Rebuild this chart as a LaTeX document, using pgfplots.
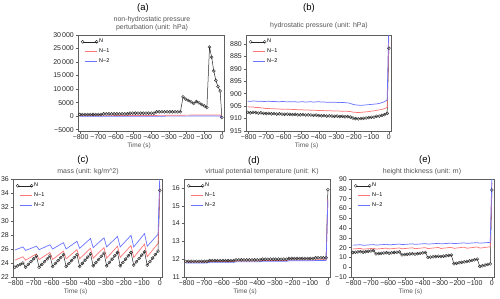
\documentclass[border=0pt]{standalone}
\usepackage{fontspec}
\setmainfont{Liberation Sans}
\usepackage{pgfplots}
\usepackage{pgfplotstable}
\pgfplotsset{compat=1.18}
\definecolor{nred}{RGB}{255,115,115}
\definecolor{nblue}{RGB}{105,115,255}
\definecolor{subgray}{RGB}{85,85,85}
\definecolor{axgray}{RGB}{95,95,95}

% panel (a) N
\pgfplotstableread{
t n
-805 600
-790 600
-775 600
-760 600
-745 600
-730 600
-715 600
-700 600
-685 600
-670 850
-655 850
-640 850
-625 850
-610 850
-595 850
-580 850
-565 850
-550 850
-535 850
-520 1100
-505 1100
-490 1100
-475 1100
-460 1100
-445 1100
-430 1100
-415 1100
-400 1100
-385 1100
-370 1600
-355 1600
-340 1600
-325 1600
-310 1600
-295 1600
-280 1600
-265 1600
-250 1600
-235 1600
-220 7100
-205 6300
-190 5800
-175 5300
-160 4700
-145 5400
-130 4900
-115 4300
-100 3800
-85 3200
-70 25500
-58 21800
-46 16700
-34 13200
-22 10900
-10 9300
0 -500
}\tabA

% panel (b)
\pgfplotstableread{
t n n1 n2
-805 907.5 905.2 903.0
-790 907.7 905.4 903.1
-775 907.5 905.3 902.9
-760 907.6 905.6 903.0
-745 907.8 905.5 903.1
-730 907.7 905.7 903.0
-715 907.9 905.8 903.2
-700 908.0 906.0 903.1
-685 907.9 905.9 903.0
-670 908.1 906.1 903.2
-655 908.0 906.0 903.1
-640 908.2 906.2 903.2
-625 908.1 906.1 903.3
-610 908.2 906.3 903.1
-595 908.3 906.2 903.2
-580 908.2 906.3 903.3
-565 908.3 906.2 903.2
-550 908.4 906.4 903.3
-535 908.3 906.3 903.2
-520 908.5 906.5 903.4
-505 908.5 906.4 903.3
-490 908.4 906.5 903.2
-475 908.6 906.6 903.4
-460 908.5 906.5 903.3
-445 908.6 906.7 903.2
-430 908.7 906.6 903.4
-415 908.6 906.7 903.3
-400 908.8 906.8 903.2
-385 908.9 906.7 903.4
-370 908.8 906.8 903.3
-355 909.0 906.9 903.5
-340 908.9 906.8 903.4
-325 909.0 906.9 903.5
-310 909.1 907.0 903.4
-295 909.0 906.9 903.5
-280 909.2 907.0 903.6
-265 909.1 907.1 903.5
-250 909.3 907.0 903.6
-235 909.2 907.1 903.7
-220 909.4 907.2 903.9
-205 909.8 907.4 904.3
-190 910.0 907.5 904.5
-175 910.1 907.6 904.6
-160 910.0 907.5 904.7
-145 909.9 907.4 904.6
-130 909.8 907.3 904.5
-115 909.6 907.2 904.4
-100 909.5 907.0 904.3
-85 909.4 906.9 904.2
-70 909.1 906.7 904.1
-55 909.0 906.5 903.9
-40 908.7 906.3 903.6
-25 908.4 906.0 903.2
-10 907.9 905.5 902.5
0 881.7 876.0 870.0
}\tabB

% panel (c)
\pgfplotstableread{
t n n1 n2
-805 23.40 24.40 25.85
-790 23.60 24.57 26.00
-775 23.80 24.73 26.15
-760 24.00 24.90 26.30
-745 23.40 24.40 25.80
-730 23.80 24.63 25.95
-715 24.20 24.85 26.10
-700 24.60 25.08 26.25
-685 25.00 25.30 26.40
-670 23.40 24.50 25.90
-655 23.80 24.75 26.08
-640 24.20 25.00 26.25
-625 24.60 25.25 26.43
-610 25.00 25.50 26.60
-595 23.50 24.50 26.00
-580 23.93 24.80 26.23
-565 24.35 25.10 26.45
-550 24.78 25.40 26.68
-535 25.20 25.70 26.90
-520 23.50 24.60 26.00
-505 23.93 24.93 26.28
-490 24.35 25.25 26.55
-475 24.78 25.58 26.83
-460 25.20 25.90 27.10
-445 23.50 24.60 26.10
-430 23.95 24.98 26.45
-415 24.40 25.35 26.80
-400 24.85 25.73 27.15
-385 25.30 26.10 27.50
-370 23.60 24.70 26.20
-355 24.05 25.08 26.55
-340 24.50 25.45 26.90
-325 24.95 25.83 27.25
-310 25.40 26.20 27.60
-295 23.60 24.70 26.30
-280 24.08 25.13 26.68
-265 24.55 25.55 27.05
-250 25.03 25.98 27.43
-235 25.50 26.40 27.80
-220 23.60 24.80 26.30
-205 24.08 25.23 26.71
-190 24.55 25.65 27.13
-175 25.03 26.08 27.54
-160 25.50 26.50 27.95
-145 23.70 24.80 26.30
-130 24.18 25.28 26.78
-115 24.65 25.75 27.25
-100 25.13 26.23 27.73
-85 25.60 26.70 28.20
-70 23.70 24.90 26.40
-55 24.20 25.38 26.83
-40 24.70 25.85 27.25
-25 25.20 26.33 27.68
-10 25.70 26.80 28.10
0 34.40 35.20 36.80
}\tabC

% panel (d)
\pgfplotstableread{
t n n1 n2
-805 11.88 11.84 11.79
-790 11.88 11.84 11.79
-775 11.88 11.84 11.79
-760 11.88 11.84 11.79
-745 11.88 11.84 11.79
-730 11.88 11.84 11.79
-715 11.88 11.84 11.79
-700 11.88 11.84 11.79
-685 11.88 11.84 11.79
-670 11.92 11.87 11.82
-655 11.92 11.87 11.82
-640 11.92 11.87 11.82
-625 11.92 11.87 11.82
-610 11.92 11.87 11.82
-595 11.92 11.87 11.82
-580 11.92 11.87 11.82
-565 11.92 11.87 11.82
-550 11.92 11.87 11.82
-535 11.92 11.87 11.82
-520 11.96 11.90 11.85
-505 11.96 11.90 11.85
-490 11.96 11.90 11.85
-475 11.96 11.90 11.85
-460 11.96 11.90 11.85
-445 11.96 11.90 11.85
-430 11.96 11.90 11.85
-415 11.96 11.90 11.85
-400 11.96 11.90 11.85
-385 11.96 11.90 11.85
-370 12.00 11.93 11.88
-355 12.00 11.93 11.88
-340 12.00 11.93 11.88
-325 12.00 11.93 11.88
-310 12.00 11.93 11.88
-295 12.00 11.93 11.88
-280 12.00 11.93 11.88
-265 12.00 11.93 11.88
-250 12.00 11.93 11.88
-235 12.00 11.93 11.88
-220 12.04 11.95 11.91
-205 12.04 11.95 11.91
-190 12.04 11.95 11.91
-175 12.04 11.95 11.91
-160 12.04 11.95 11.91
-145 12.04 11.95 11.91
-130 12.04 11.95 11.91
-115 12.04 11.95 11.91
-100 12.04 11.95 11.91
-85 12.04 11.95 11.91
-70 12.08 11.97 11.93
-55 12.08 11.97 11.93
-40 12.08 11.97 11.93
-25 12.08 11.97 11.93
-10 12.08 11.97 11.93
0 15.90 15.40 15.30
}\tabD

% panel (e)
\pgfplotstableread{
t n n1 n2
-805 15.0 18.60 22.50
-790 15.3 18.80 22.60
-775 15.6 19.00 22.80
-760 15.9 19.20 23.00
-745 15.4 18.40 22.30
-730 15.8 18.63 22.50
-715 16.2 18.85 22.70
-700 16.6 19.08 22.90
-685 17.0 19.30 23.10
-670 13.6 18.52 22.55
-655 13.9 18.76 22.75
-640 14.2 19.00 22.95
-625 14.5 19.23 23.15
-610 14.8 19.47 23.35
-595 14.3 18.64 22.80
-580 14.7 18.89 23.00
-565 15.0 19.14 23.20
-550 15.3 19.39 23.40
-535 15.6 19.64 23.60
-520 12.6 18.76 23.05
-505 12.9 19.02 23.25
-490 13.2 19.29 23.45
-475 13.5 19.55 23.65
-460 13.8 19.81 23.85
-445 13.4 18.88 23.30
-430 13.8 19.16 23.50
-415 14.2 19.43 23.70
-400 14.6 19.71 23.90
-385 15.0 19.98 24.10
-370 10.0 19.00 23.55
-355 10.3 19.29 23.75
-340 10.6 19.58 23.95
-325 10.9 19.86 24.15
-310 11.2 20.15 24.35
-295 10.8 19.12 23.80
-280 11.2 19.42 24.00
-265 11.6 19.72 24.20
-250 12.0 20.02 24.40
-235 12.4 20.32 24.60
-220 3.5 19.24 24.05
-205 4.0 19.55 24.25
-190 4.5 19.87 24.45
-175 5.0 20.18 24.65
-160 5.5 20.49 24.85
-145 5.8 19.36 24.30
-130 6.4 19.69 24.50
-115 7.0 20.01 24.70
-100 7.6 20.34 24.90
-85 8.2 20.66 25.10
-70 0.8 19.48 24.55
-55 1.5 19.82 24.75
-40 2.2 20.16 24.95
-25 2.8 20.49 25.15
-10 3.4 20.83 25.35
0 78.8 86.0 95.0
}\tabE

\pgfplotsset{
 panel/.style={
  scale only axis, anchor=north west,
  xmin=-815, xmax=12,
  xtick={-800,-700,...,0},
  xticklabels={−800,−700,−600,−500,−400,−300,−200,−100,0},
  scaled y ticks=false,
  xtick pos=left, ytick pos=left,
  tick align=outside,
  major tick length=2.5bp,
  every tick/.style={axgray, line width=0.4pt},
  axis line style={axgray, line width=0.6pt},
  tick label style={font=\fontsize{7}{7}\selectfont, text=black!85},
  xticklabel style={inner sep=1pt},
  yticklabel style={inner sep=1.5pt},
  /pgf/number format/assume math mode=true,
  xlabel={Time (s)},
  xlabel style={font=\fontsize{6.5}{6.5}\selectfont, text=subgray, at={(axis description cs:0.5,0)}, anchor=center, yshift=-15bp, xshift=-12bp},
  legend style={draw=none, fill=none, at={(0,1)}, anchor=north west, xshift=3bp, yshift=-3bp, font=\fontsize{5.5}{5.5}\selectfont, row sep=2.5bp, inner sep=0pt, nodes={inner sep=1pt}},
  legend cell align=left,
 },
 nN/.style={black!85, line width=0.5pt, mark=o, mark size=1.5bp, mark options={line width=0.4pt, fill=none},
   legend image code/.code={\draw[black!85, line width=0.5pt, mark=o, mark size=1.5bp, mark options={line width=0.4pt}] plot coordinates {(0bp,0bp) (14bp,0bp)};}},
 nA/.style={nred, line width=0.7pt, legend image code/.code={\draw[draw=nred, line width=1pt] (2bp,0bp) -- (14bp,0bp);}},
 nB/.style={nblue, line width=0.7pt, legend image code/.code={\draw[draw=nblue, line width=1pt] (2bp,0bp) -- (14bp,0bp);}},
}

\begin{document}
\begin{tikzpicture}
\path[use as bounding box] (0,0) rectangle (500bp,-299bp);

% ---------- (a)
\begin{axis}[panel, at={(78bp,-35bp)}, width=146bp, height=96bp,
  ymin=-5500, ymax=30000, ytick={-5000,0,...,30000},
  yticklabels={−5000,0,5000,10\,000,15\,000,20\,000,25\,000,30\,000}]
\addplot[nN] table[x=t,y=n] {\tabA};
\addlegendentry{N}
\addplot[nA] coordinates {(-805,150) (-600,200) (-400,250) (-220,350) (-100,450) (-10,450) (0,-500)};
\addlegendentry{N−1}
\addplot[nB] coordinates {(-805,-50) (-600,-40) (-400,-20) (-200,10) (-100,30) (-10,50) (0,-700)};
\addlegendentry{N−2}
\end{axis}

% ---------- (b)
\begin{axis}[panel, at={(246bp,-35bp)}, width=145bp, height=96bp,
  y dir=reverse, ymin=876.4, ymax=915, ytick={880,885,...,915}]
\addplot[nN] table[x=t,y=n] {\tabB};
\addlegendentry{N}
\addplot[nA] table[x=t,y=n1] {\tabB};
\addlegendentry{N−1}
\addplot[nB] table[x=t,y=n2] {\tabB};
\addlegendentry{N−2}
\end{axis}

% ---------- (c)
\begin{axis}[panel, at={(13bp,-179bp)}, width=149bp, height=98bp,
  ymin=22, ymax=36, ytick={22,24,...,36}]
\addplot[nN] table[x=t,y=n] {\tabC};
\addlegendentry{N}
\addplot[nA] table[x=t,y=n1] {\tabC};
\addlegendentry{N−1}
\addplot[nB] table[x=t,y=n2] {\tabC};
\addlegendentry{N−2}
\end{axis}

% ---------- (d)
\begin{axis}[panel, at={(184bp,-179bp)}, width=146bp, height=98bp,
  ymin=11, ymax=16.5, ytick={11,12,...,16}]
\addplot[nN] table[x=t,y=n] {\tabD};
\addlegendentry{N}
\addplot[nA] table[x=t,y=n1] {\tabD};
\addlegendentry{N−1}
\addplot[nB] table[x=t,y=n2] {\tabD};
\addlegendentry{N−2}
\end{axis}

% ---------- (e)
\begin{axis}[panel, at={(351bp,-179bp)}, width=143bp, height=98bp,
  ymin=-10, ymax=90, ytick={-10,0,...,90},
  yticklabels={−10,0,10,20,30,40,50,60,70,80,90}]
\addplot[nN] table[x=t,y=n] {\tabE};
\addlegendentry{N}
\addplot[nA] table[x=t,y=n1] {\tabE};
\addlegendentry{N−1}
\addplot[nB] table[x=t,y=n2] {\tabE};
\addlegendentry{N−2}
\end{axis}

% ---------- titles
\node[font=\fontsize{9.5}{9.5}\selectfont] at (143bp,-8bp) {(a)};
\node[font=\fontsize{7}{8}\selectfont, text=subgray, align=center] at (152bp,-24bp) {non-hydrostatic pressure\\perturbation (unit: hPa)};
\node[font=\fontsize{9.5}{9.5}\selectfont] at (309bp,-8bp) {(b)};
\node[font=\fontsize{7}{8}\selectfont, text=subgray] at (319bp,-26bp) {hydrostatic pressure (unit: hPa)};
\node[font=\fontsize{9.5}{9.5}\selectfont] at (83bp,-160bp) {(c)};
\node[font=\fontsize{7}{8}\selectfont, text=subgray] at (88bp,-172bp) {mass (unit: kg/m\^{}2)};
\node[font=\fontsize{9.5}{9.5}\selectfont] at (254bp,-161bp) {(d)};
\node[font=\fontsize{7}{8}\selectfont, text=subgray] at (262bp,-172bp) {virtual potential temperature (unit: K)};
\node[font=\fontsize{9.5}{9.5}\selectfont] at (425bp,-160bp) {(e)};
\node[font=\fontsize{7}{8}\selectfont, text=subgray] at (422bp,-172bp) {height thickness (unit: m)};
\end{tikzpicture}
\end{document}
